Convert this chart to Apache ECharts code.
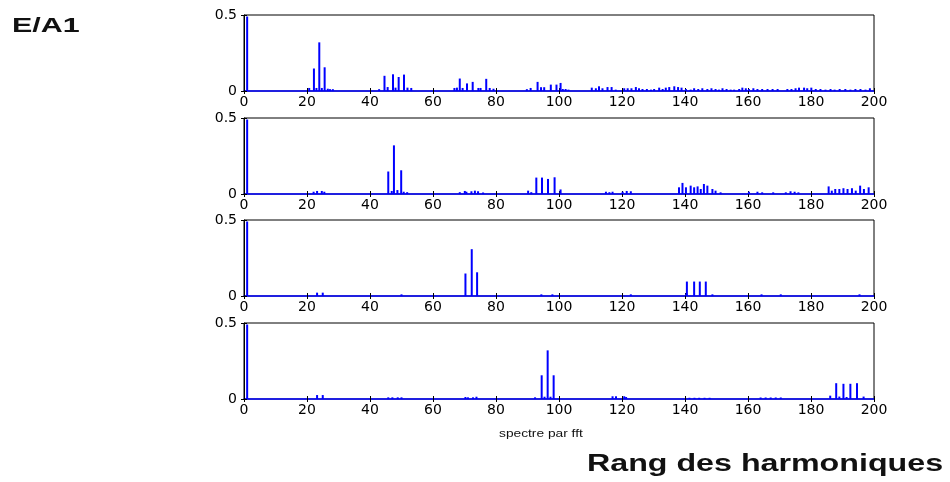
<!DOCTYPE html>
<html>
<head>
<meta charset="utf-8">
<script src="https://cdn.jsdelivr.net/npm/echarts@6/dist/echarts.min.js"></script>
<style>
  html, body { margin: 0; padding: 0; background: #fff; }
  #chart { width: 950px; height: 482px; }
</style>
</head>
<body>
<div id="chart"></div>
<script>
// harmonic rank / amplitude pairs, one array per panel
const spec1 = [
  [1, 0.49], [20.7, 0.02], [22.2, 0.148], [23, 0.02], [23.9, 0.32], [24.7, 0.02], [25.6, 0.156],
  [26.6, 0.015], [27.3, 0.012], [28.2, 0.012],
  [42.9, 0.012], [44.6, 0.1], [45.6, 0.026], [47.3, 0.11], [48.1, 0.022], [49.1, 0.092], [50.8, 0.108],
  [51.9, 0.022], [53.1, 0.02],
  [66.8, 0.02], [67.6, 0.022], [68.5, 0.082], [69.4, 0.02], [70.8, 0.05], [72.6, 0.06], [74.4, 0.02],
  [75.1, 0.02], [76.9, 0.08], [78, 0.02], [79.2, 0.015],
  [89.8, 0.012], [91, 0.02], [93.2, 0.06], [94.3, 0.025], [95.3, 0.025], [97.4, 0.042], [99.2, 0.042],
  [100.5, 0.053], [101.2, 0.013], [102.1, 0.013], [103, 0.009],
  [110.4, 0.022], [111.7, 0.018], [112.7, 0.031], [113.8, 0.018], [115.4, 0.026], [116.7, 0.026],
  [118, 0.009], [120.7, 0.018], [121.8, 0.018], [123, 0.018], [124.4, 0.026], [125.4, 0.018],
  [126.5, 0.013], [127.9, 0.013], [129.2, 0.009], [130.2, 0.013], [131.8, 0.022], [132.9, 0.013],
  [133.9, 0.022], [135, 0.026], [136.6, 0.031], [137.8, 0.026], [138.9, 0.022], [140.3, 0.013],
  [141.8, 0.009], [142.9, 0.018], [144.2, 0.013], [145.5, 0.018], [147.1, 0.013], [148.4, 0.018],
  [149.7, 0.013], [150.8, 0.009], [151.9, 0.018], [153.2, 0.013], [154.5, 0.009], [155.6, 0.009],
  [157.2, 0.013], [158.2, 0.022], [159.3, 0.018], [160.3, 0.013], [161.7, 0.018], [163, 0.013],
  [164.5, 0.013], [166.2, 0.013], [167.8, 0.013], [169.4, 0.013], [172.5, 0.013], [173.8, 0.013],
  [175.1, 0.018], [176.2, 0.022], [177.8, 0.022], [178.8, 0.018], [180.1, 0.022], [181.5, 0.013],
  [183, 0.013], [184.6, 0.009], [186.2, 0.013], [187.5, 0.009], [189.1, 0.013], [190.9, 0.013],
  [192.5, 0.009], [194.1, 0.013], [195.7, 0.013], [197.3, 0.009], [198.7, 0.018]
];
const spec2 = [
  [1, 0.49], [22.1, 0.015], [23.2, 0.02], [24.7, 0.02], [25.5, 0.015],
  [45.8, 0.148], [46.9, 0.02], [47.6, 0.32], [48.7, 0.026], [49.9, 0.156], [50.7, 0.015], [51.8, 0.012],
  [68.5, 0.012], [70.1, 0.02], [70.6, 0.015], [72.2, 0.018], [73.3, 0.022], [74.3, 0.018], [75.9, 0.01],
  [90.2, 0.022], [91.2, 0.012], [92.8, 0.108], [94.6, 0.108], [96.5, 0.099], [98.6, 0.11], [100.5, 0.03],
  [114.9, 0.015], [116, 0.012], [117, 0.015], [120.2, 0.015], [121.5, 0.02], [122.8, 0.018],
  [138.1, 0.044], [139.2, 0.073], [140.3, 0.044], [141.8, 0.055], [142.9, 0.044], [144, 0.05],
  [145, 0.033], [146, 0.066], [147.1, 0.055], [148.7, 0.033], [149.7, 0.022], [151.3, 0.011],
  [160.3, 0.015], [163, 0.015], [164.5, 0.011], [168, 0.011],
  [172, 0.011], [173.5, 0.018], [174.8, 0.015], [176, 0.011],
  [185.6, 0.05], [186.6, 0.022], [187.7, 0.033], [189, 0.033], [190.3, 0.038], [191.6, 0.033],
  [193, 0.038], [194.2, 0.022], [195.6, 0.055], [196.8, 0.033], [198.3, 0.044]
];
const spec3 = [
  [1, 0.49], [23.2, 0.022], [25, 0.022], [50, 0.011],
  [70.3, 0.148], [72.3, 0.308], [74, 0.156],
  [94.4, 0.011], [97.9, 0.011], [122.8, 0.011],
  [140.4, 0.015], [140.6, 0.095], [142.9, 0.095], [144.7, 0.095], [146.6, 0.095], [148.7, 0.011],
  [164.3, 0.011], [170.4, 0.011], [195.4, 0.011]
];
const spec4 = [
  [1, 0.49], [23.2, 0.026], [25, 0.026],
  [45.8, 0.011], [47.1, 0.011], [48.8, 0.011], [50, 0.011],
  [70.3, 0.013], [71.1, 0.011], [72.7, 0.011], [73.8, 0.015],
  [92.4, 0.011], [94.5, 0.156], [95.4, 0.015], [96.4, 0.32], [97.3, 0.015], [98.3, 0.156],
  [117, 0.018], [118.1, 0.018], [120.7, 0.018], [121.3, 0.013],
  [141.4, 0.008], [143, 0.008], [144.5, 0.008], [146.2, 0.008], [147.8, 0.008],
  [164, 0.01], [165.6, 0.01], [167.2, 0.01], [168.8, 0.01], [170.4, 0.01],
  [186.1, 0.022], [188, 0.104], [189, 0.016], [190.3, 0.1], [191.3, 0.013], [192.5, 0.1],
  [194.6, 0.104], [196.7, 0.016]
];

const panels = [spec1, spec2, spec3, spec4];
const gridTops = [15, 118, 220, 323];

const tickFont = { color: '#000', fontFamily: 'DejaVu Sans', fontSize: 14 };
const tickStyle = { inside: true, length: 3, lineStyle: { color: '#000' } };

const grid = [], xAxis = [], yAxis = [], series = [];
panels.forEach((data, i) => {
  grid.push({ left: 244, right: 76, top: gridTops[i], height: 76, show: true, borderColor: '#000', borderWidth: 1 });
  xAxis.push({
    gridIndex: i, type: 'value', min: 0, max: 200, interval: 20, position: 'bottom',
    axisLine: { lineStyle: { color: '#0000ff', width: 1.5 } },
    axisTick: tickStyle,
    axisLabel: Object.assign({ margin: 4, showMinLabel: true, showMaxLabel: true }, tickFont),
    splitLine: { show: false }
  });
  xAxis.push({
    gridIndex: i, type: 'value', min: 0, max: 200, interval: 20, position: 'top',
    axisLine: { show: false }, axisTick: tickStyle, axisLabel: { show: false }, splitLine: { show: false }
  });
  yAxis.push({
    gridIndex: i, type: 'value', min: 0, max: 0.5, interval: 0.5, position: 'left',
    axisLine: { show: true, lineStyle: { color: '#000' } },
    axisTick: Object.assign({ show: true }, tickStyle),
    axisLabel: Object.assign({ margin: 7 }, tickFont),
    splitLine: { show: false }
  });
  yAxis.push({
    gridIndex: i, type: 'value', min: 0, max: 0.5, interval: 0.5, position: 'right',
    axisLine: { show: false }, axisTick: Object.assign({ show: true }, tickStyle),
    axisLabel: { show: false }, splitLine: { show: false }
  });
  series.push({
    type: 'bar', xAxisIndex: 2 * i, yAxisIndex: 2 * i, data: data,
    barWidth: 2, itemStyle: { color: '#0000ff' }, silent: true, animation: false
  });
});

const chart = echarts.init(document.getElementById('chart'));
chart.setOption({
  backgroundColor: '#fff',
  animation: false,
  grid, xAxis, yAxis, series,
  graphic: [
    { type: 'text', x: 12, y: 26, scaleX: 1.45,
      style: { text: 'E/A1', font: 'bold 21px "Liberation Sans", Arial, sans-serif', fill: '#111', verticalAlign: 'middle', textVerticalAlign: 'middle' } },
    { type: 'text', x: 499, y: 434, scaleX: 1.25,
      style: { text: 'spectre par fft', font: '11px "Liberation Sans", Arial, sans-serif', fill: '#111', verticalAlign: 'middle', textVerticalAlign: 'middle' } },
    { type: 'text', x: 587, y: 465, scaleX: 1.4,
      style: { text: 'Rang des harmoniques', font: 'bold 23px "Liberation Sans", Arial, sans-serif', fill: '#111', verticalAlign: 'middle', textVerticalAlign: 'middle' } }
  ]
});
</script>
</body>
</html>
